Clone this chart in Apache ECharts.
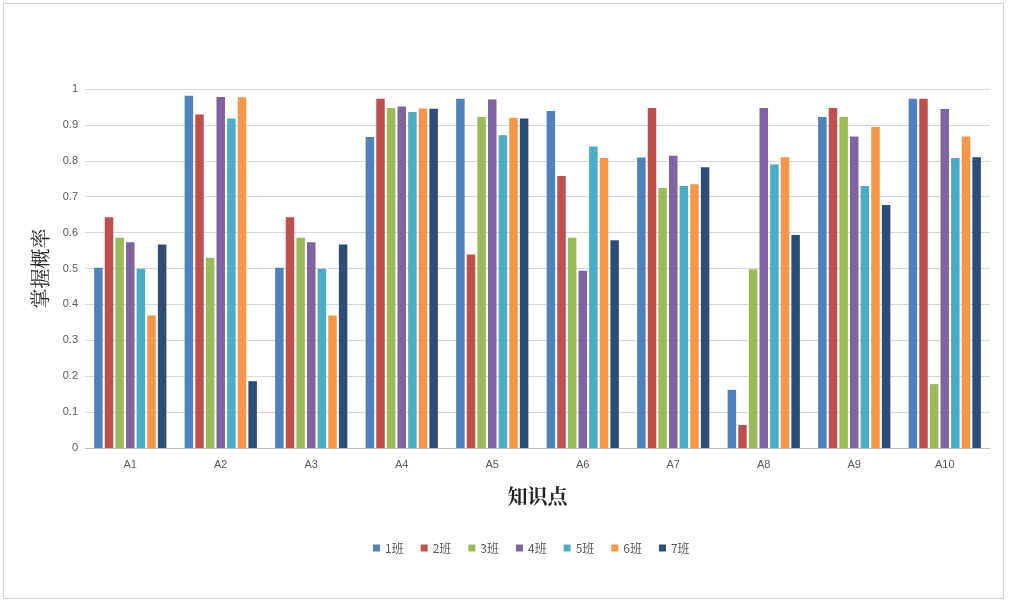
<!DOCTYPE html>
<html>
<head>
<meta charset="utf-8">
<script src="https://cdn.jsdelivr.net/npm/echarts@6/dist/echarts.min.js"></script>
<style>
  html, body { margin: 0; padding: 0; background: #fff; }
  #frame { position: absolute; left: 3px; top: 3px; width: 1001px; height: 596px; border: 1px solid #d0d0d0; box-sizing: border-box; }
  #root { width: 1010px; height: 604px; }
</style>
</head>
<body>
<div id="frame"></div>
<div id="root"></div>
<script>
  // categories (知识点)
  const points = ['A1', 'A2', 'A3', 'A4', 'A5', 'A6', 'A7', 'A8', 'A9', 'A10']
  const classNames = ['1班', '2班', '3班', '4班', '5班', '6班', '7班']

  // 掌握概率 per class
  const class1 = [0.502, 0.981, 0.502, 0.866, 0.973, 0.939, 0.809, 0.162, 0.922, 0.973]
  const class2 = [0.643, 0.929, 0.643, 0.973, 0.539, 0.758, 0.947, 0.064, 0.947, 0.973]
  const class3 = [0.586, 0.530, 0.586, 0.947, 0.922, 0.586, 0.724, 0.498, 0.922, 0.178]
  const class4 = [0.573, 0.978, 0.573, 0.951, 0.971, 0.494, 0.814, 0.947, 0.868, 0.944]
  const class5 = [0.499, 0.918, 0.499, 0.936, 0.871, 0.840, 0.730, 0.790, 0.730, 0.808]
  const class6 = [0.369, 0.977, 0.369, 0.946, 0.920, 0.808, 0.735, 0.810, 0.894, 0.868]
  const class7 = [0.567, 0.186, 0.567, 0.945, 0.918, 0.579, 0.782, 0.593, 0.677, 0.810]

  const colors = ['#4f81bd', '#c0504d', '#9bbb59', '#8064a2', '#4bacc6', '#f79646', '#2c4d75']
  const allData = [class1, class2, class3, class4, class5, class6, class7]

  const chart = echarts.init(document.getElementById('root'))

  const option = {
    animation: false,
    color: colors,
    grid: {
      left: 85,
      right: 20,
      top: 89,
      bottom: 156
    },
    legend: {
      data: classNames,
      bottom: 45,
      left: 368,
      itemWidth: 7,
      itemHeight: 7,
      itemGap: 17,
      icon: 'rect',
      textStyle: { color: '#595959', fontSize: 12, fontFamily: 'Noto Sans CJK SC' }
    },
    xAxis: {
      type: 'category',
      data: points,
      name: '知识点',
      nameLocation: 'middle',
      nameGap: 38,
      nameTextStyle: { fontSize: 20, fontWeight: 'bold', color: '#222', fontFamily: 'Noto Serif CJK SC, serif' },
      axisLine: { lineStyle: { color: '#bfbfbf' } },
      axisTick: { show: false },
      axisLabel: { color: '#595959', fontSize: 11, margin: 11 }
    },
    yAxis: {
      type: 'value',
      min: 0,
      max: 1,
      interval: 0.1,
      name: '掌握概率',
      nameLocation: 'middle',
      nameGap: 35,
      nameRotate: 90,
      nameTextStyle: { fontSize: 20, color: '#222', fontFamily: 'Noto Serif CJK SC, serif' },
      axisLine: { show: false },
      axisTick: { show: false },
      axisLabel: {
        color: '#595959',
        fontSize: 11,
        margin: 7,
        formatter: v => String(Math.round(v * 10) / 10)
      },
      splitLine: { lineStyle: { color: '#d9d9d9' } }
    },
    series: classNames.map((name, i) => ({
      name: name,
      type: 'bar',
      data: allData[i],
      barWidth: 8.5,
      barGap: '25%'
    }))
  }
  chart.setOption(option)
</script>
</body>
</html>
